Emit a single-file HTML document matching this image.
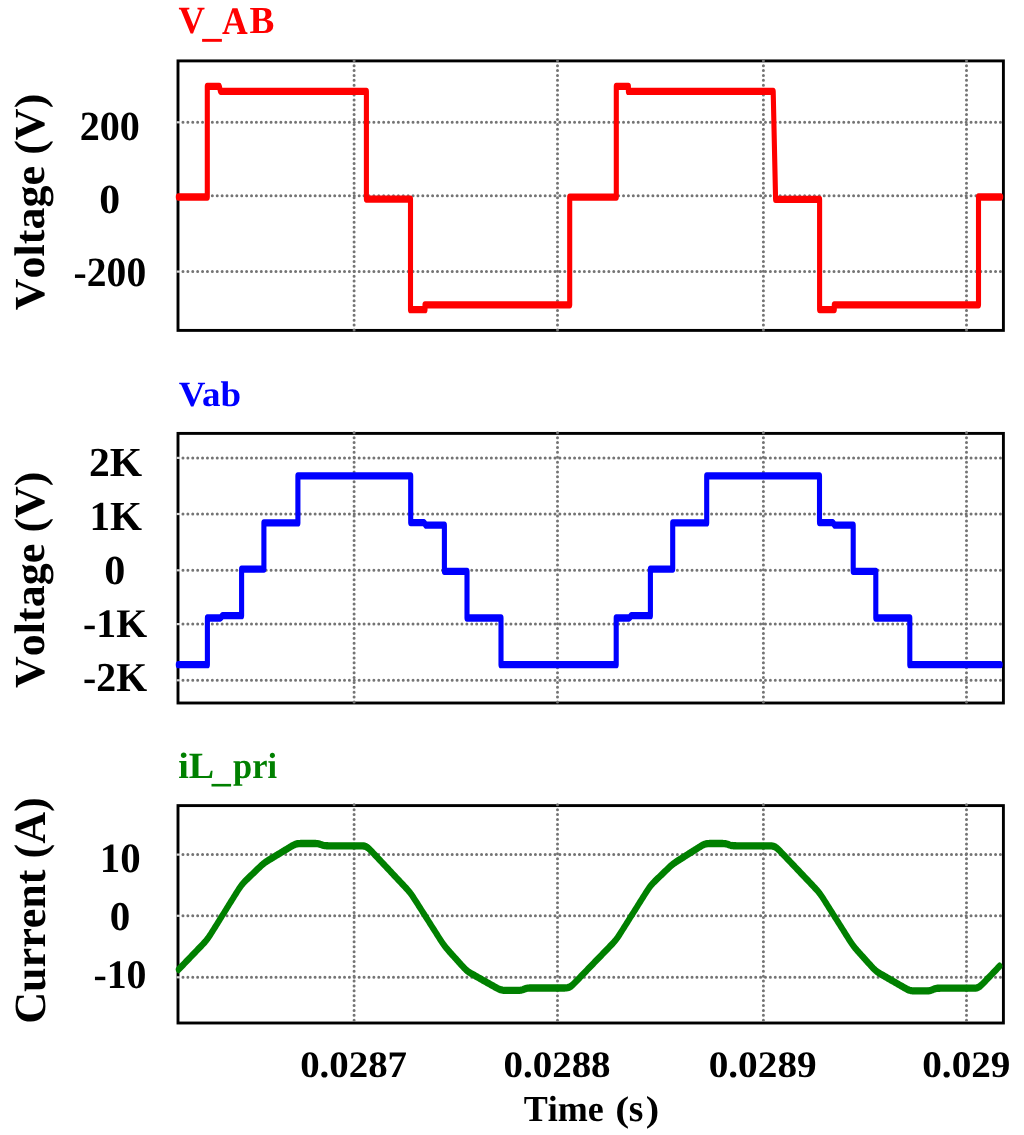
<!DOCTYPE html><html><head><meta charset="utf-8"><style>html,body{margin:0;padding:0;background:#fff;}svg{display:block;filter:blur(0.4px);}</style></head><body><svg width="1024" height="1135" viewBox="0 0 1024 1135">
<rect width="1024" height="1135" fill="#fff"/>
<rect x="178.0" y="60.9" width="825.40" height="269.50" fill="none" stroke="#000" stroke-width="2.9"/>
<rect x="178.0" y="433.4" width="825.40" height="269.60" fill="none" stroke="#000" stroke-width="2.9"/>
<rect x="178.0" y="805.6" width="825.40" height="217.40" fill="none" stroke="#000" stroke-width="2.9"/>
<g stroke="#747474" stroke-width="3.0" stroke-linecap="round" stroke-dasharray="0 4.895" fill="none">
<line x1="182.97" y1="122.3" x2="1002.40" y2="122.3"/>
<line x1="182.97" y1="195.7" x2="1002.40" y2="195.7"/>
<line x1="182.97" y1="271.6" x2="1002.40" y2="271.6"/>
<line x1="354.1" y1="60.77" x2="354.1" y2="331.40"/>
<line x1="557.5" y1="60.77" x2="557.5" y2="331.40"/>
<line x1="763.4" y1="60.77" x2="763.4" y2="331.40"/>
<line x1="966.5" y1="60.77" x2="966.5" y2="331.40"/>
<line x1="182.97" y1="457.9" x2="1002.40" y2="457.9"/>
<line x1="182.97" y1="514.0" x2="1002.40" y2="514.0"/>
<line x1="182.97" y1="570.3" x2="1002.40" y2="570.3"/>
<line x1="182.97" y1="624.1" x2="1002.40" y2="624.1"/>
<line x1="182.97" y1="680.3" x2="1002.40" y2="680.3"/>
<line x1="354.1" y1="432.78" x2="354.1" y2="704.00"/>
<line x1="557.5" y1="432.78" x2="557.5" y2="704.00"/>
<line x1="763.4" y1="432.78" x2="763.4" y2="704.00"/>
<line x1="966.5" y1="432.78" x2="966.5" y2="704.00"/>
<line x1="182.97" y1="854.6" x2="1002.40" y2="854.6"/>
<line x1="182.97" y1="915.8" x2="1002.40" y2="915.8"/>
<line x1="182.97" y1="977.3" x2="1002.40" y2="977.3"/>
<line x1="354.1" y1="804.81" x2="354.1" y2="1024.00"/>
<line x1="557.5" y1="804.81" x2="557.5" y2="1024.00"/>
<line x1="763.4" y1="804.81" x2="763.4" y2="1024.00"/>
<line x1="966.5" y1="804.81" x2="966.5" y2="1024.00"/>
</g>
<line x1="176.6" y1="122.3" x2="180.0" y2="122.3" stroke="#d4d4d4" stroke-width="2.2"/>
<line x1="176.6" y1="195.7" x2="180.0" y2="195.7" stroke="#d4d4d4" stroke-width="2.2"/>
<line x1="176.6" y1="271.6" x2="180.0" y2="271.6" stroke="#d4d4d4" stroke-width="2.2"/>
<line x1="176.6" y1="457.9" x2="180.0" y2="457.9" stroke="#d4d4d4" stroke-width="2.2"/>
<line x1="176.6" y1="514.0" x2="180.0" y2="514.0" stroke="#d4d4d4" stroke-width="2.2"/>
<line x1="176.6" y1="570.3" x2="180.0" y2="570.3" stroke="#d4d4d4" stroke-width="2.2"/>
<line x1="176.6" y1="624.1" x2="180.0" y2="624.1" stroke="#d4d4d4" stroke-width="2.2"/>
<line x1="176.6" y1="680.3" x2="180.0" y2="680.3" stroke="#d4d4d4" stroke-width="2.2"/>
<line x1="176.6" y1="854.6" x2="180.0" y2="854.6" stroke="#d4d4d4" stroke-width="2.2"/>
<line x1="176.6" y1="915.8" x2="180.0" y2="915.8" stroke="#d4d4d4" stroke-width="2.2"/>
<line x1="176.6" y1="977.3" x2="180.0" y2="977.3" stroke="#d4d4d4" stroke-width="2.2"/>
<g transform="scale(1,1.43)"><path d="M178.30,137.762 L207.30,137.762 L207.30,60.350 L219.30,60.350 L220.50,63.916 L366.40,63.916 L366.40,139.231 L410.50,139.231 L410.50,216.573 L425.00,216.573 L425.00,213.147 L569.70,213.147 L569.70,137.832 L616.30,137.832 L616.30,60.350 L628.40,60.350 L628.40,63.916 L773.20,63.916 L775.60,139.441 L819.60,139.441 L819.60,216.503 L834.30,216.503 L834.30,213.147 L978.50,213.147 L978.50,137.762 L1000.70,137.762" fill="none" stroke="#ff0000" stroke-width="5.1" stroke-linejoin="round" stroke-linecap="round"/></g>
<g transform="scale(1,1.43)"><path d="M178.30,464.825 L207.40,464.825 L207.40,432.168 L220.50,432.168 L222.50,430.559 L241.60,430.559 L241.60,397.972 L263.90,397.972 L263.90,365.664 L297.90,365.664 L297.90,332.797 L410.70,332.797 L410.70,365.455 L424.00,365.455 L426.00,367.273 L444.40,367.273 L444.40,399.510 L467.00,399.510 L467.00,432.168 L501.00,432.168 L501.00,464.825 L616.20,464.825 L616.20,432.168 L629.30,432.168 L631.30,430.559 L650.40,430.559 L650.40,397.972 L672.70,397.972 L672.70,365.664 L706.70,365.664 L706.70,332.797 L819.50,332.797 L819.50,365.455 L832.80,365.455 L834.80,367.273 L853.20,367.273 L853.20,399.510 L875.80,399.510 L875.80,432.168 L909.80,432.168 L909.80,464.825 L1000.20,464.825" fill="none" stroke="#0000ff" stroke-width="5.1" stroke-linejoin="round" stroke-linecap="round"/></g>
<g transform="scale(1,1.31)"><path d="M178.60,740.076 L179.60,739.281 L180.60,738.486 L181.60,737.691 L182.60,736.896 L183.60,736.101 L184.60,735.305 L185.60,734.510 L186.60,733.715 L187.60,732.920 L188.60,732.125 L189.60,731.330 L190.60,730.534 L191.60,729.739 L192.60,728.944 L193.60,728.149 L194.60,727.354 L195.60,726.559 L196.60,725.763 L197.60,724.968 L198.60,724.173 L199.60,723.378 L200.60,722.582 L201.60,721.784 L202.60,720.981 L203.60,720.167 L204.60,719.331 L205.60,718.458 L206.60,717.532 L207.60,716.541 L208.60,715.482 L209.60,714.363 L210.60,713.196 L211.60,711.999 L212.60,710.785 L213.60,709.562 L214.60,708.336 L215.60,707.109 L216.60,705.881 L217.60,704.654 L218.60,703.426 L219.60,702.199 L220.60,700.971 L221.60,699.743 L222.60,698.516 L223.60,697.288 L224.60,696.060 L225.60,694.833 L226.60,693.605 L227.60,692.378 L228.60,691.150 L229.60,689.922 L230.60,688.695 L231.60,687.467 L232.60,686.239 L233.60,685.012 L234.60,683.785 L235.60,682.560 L236.60,681.339 L237.60,680.128 L238.60,678.939 L239.60,677.789 L240.60,676.696 L241.60,675.675 L242.60,674.732 L243.60,673.862 L244.60,673.049 L245.60,672.274 L246.60,671.521 L247.60,670.778 L248.60,670.040 L249.60,669.303 L250.60,668.567 L251.60,667.831 L252.60,667.095 L253.60,666.359 L254.60,665.623 L255.60,664.887 L256.60,664.152 L257.60,663.417 L258.60,662.683 L259.60,661.955 L260.60,661.237 L261.60,660.538 L262.60,659.867 L263.60,659.233 L264.60,658.642 L265.60,658.092 L266.60,657.576 L267.60,657.084 L268.60,656.607 L269.60,656.138 L270.60,655.672 L271.60,655.208 L272.60,654.744 L273.60,654.281 L274.60,653.817 L275.60,653.353 L276.60,652.889 L277.60,652.426 L278.60,651.962 L279.60,651.498 L280.60,651.034 L281.60,650.571 L282.60,650.107 L283.60,649.643 L284.60,649.180 L285.60,648.716 L286.60,648.252 L287.60,647.789 L288.60,647.325 L289.60,646.863 L290.60,646.404 L291.60,645.952 L292.60,645.517 L293.60,645.112 L294.60,644.753 L295.60,644.457 L296.60,644.232 L297.60,644.079 L298.60,643.984 L299.60,643.933 L300.60,643.909 L301.60,643.898 L302.60,643.895 L303.60,643.894 L304.60,643.893 L305.60,643.893 L306.60,643.893 L307.60,643.893 L308.60,643.893 L309.60,643.893 L310.60,643.893 L311.60,643.893 L312.60,643.894 L313.60,643.896 L314.60,643.901 L315.60,643.917 L316.60,643.955 L317.60,644.031 L318.60,644.163 L319.60,644.361 L320.60,644.613 L321.60,644.888 L322.60,645.146 L323.60,645.352 L324.60,645.495 L325.60,645.578 L326.60,645.621 L327.60,645.639 L328.60,645.646 L329.60,645.648 L330.60,645.649 L331.60,645.649 L332.60,645.649 L333.60,645.649 L334.60,645.649 L335.60,645.649 L336.60,645.649 L337.60,645.649 L338.60,645.649 L339.60,645.649 L340.60,645.649 L341.60,645.649 L342.60,645.649 L343.60,645.649 L344.60,645.649 L345.60,645.649 L346.60,645.649 L347.60,645.649 L348.60,645.649 L349.60,645.649 L350.60,645.649 L351.60,645.649 L352.60,645.649 L353.60,645.649 L354.60,645.649 L355.60,645.649 L356.60,645.649 L357.60,645.649 L358.60,645.649 L359.60,645.651 L360.60,645.656 L361.60,645.670 L362.60,645.706 L363.60,645.783 L364.60,645.930 L365.60,646.176 L366.60,646.544 L367.60,647.039 L368.60,647.650 L369.60,648.348 L370.60,649.104 L371.60,649.893 L372.60,650.697 L373.60,651.508 L374.60,652.320 L375.60,653.134 L376.60,653.947 L377.60,654.761 L378.60,655.574 L379.60,656.388 L380.60,657.201 L381.60,658.015 L382.60,658.828 L383.60,659.642 L384.60,660.456 L385.60,661.269 L386.60,662.083 L387.60,662.896 L388.60,663.710 L389.60,664.523 L390.60,665.337 L391.60,666.150 L392.60,666.964 L393.60,667.778 L394.60,668.591 L395.60,669.405 L396.60,670.218 L397.60,671.032 L398.60,671.845 L399.60,672.659 L400.60,673.473 L401.60,674.286 L402.60,675.100 L403.60,675.914 L404.60,676.730 L405.60,677.549 L406.60,678.378 L407.60,679.225 L408.60,680.104 L409.60,681.029 L410.60,682.011 L411.60,683.054 L412.60,684.154 L413.60,685.296 L414.60,686.467 L415.60,687.655 L416.60,688.850 L417.60,690.049 L418.60,691.249 L419.60,692.449 L420.60,693.649 L421.60,694.849 L422.60,696.049 L423.60,697.249 L424.60,698.450 L425.60,699.650 L426.60,700.850 L427.60,702.050 L428.60,703.250 L429.60,704.451 L430.60,705.651 L431.60,706.851 L432.60,708.051 L433.60,709.252 L434.60,710.452 L435.60,711.652 L436.60,712.852 L437.60,714.051 L438.60,715.249 L439.60,716.443 L440.60,717.628 L441.60,718.795 L442.60,719.932 L443.60,721.025 L444.60,722.066 L445.60,723.052 L446.60,723.987 L447.60,724.885 L448.60,725.758 L449.60,726.616 L450.60,727.468 L451.60,728.317 L452.60,729.166 L453.60,730.013 L454.60,730.861 L455.60,731.709 L456.60,732.557 L457.60,733.405 L458.60,734.252 L459.60,735.100 L460.60,735.946 L461.60,736.790 L462.60,737.627 L463.60,738.449 L464.60,739.244 L465.60,739.998 L466.60,740.695 L467.60,741.328 L468.60,741.897 L469.60,742.413 L470.60,742.890 L471.60,743.343 L472.60,743.783 L473.60,744.218 L474.60,744.650 L475.60,745.081 L476.60,745.512 L477.60,745.943 L478.60,746.374 L479.60,746.806 L480.60,747.237 L481.60,747.668 L482.60,748.099 L483.60,748.530 L484.60,748.961 L485.60,749.392 L486.60,749.823 L487.60,750.254 L488.60,750.685 L489.60,751.116 L490.60,751.547 L491.60,751.978 L492.60,752.409 L493.60,752.840 L494.60,753.270 L495.60,753.697 L496.60,754.116 L497.60,754.521 L498.60,754.898 L499.60,755.231 L500.60,755.506 L501.60,755.715 L502.60,755.858 L503.60,755.946 L504.60,755.993 L505.60,756.016 L506.60,756.026 L507.60,756.029 L508.60,756.030 L509.60,756.030 L510.60,756.031 L511.60,756.031 L512.60,756.031 L513.60,756.031 L514.60,756.030 L515.60,756.030 L516.60,756.028 L517.60,756.021 L518.60,756.003 L519.60,755.960 L520.60,755.876 L521.60,755.733 L522.60,755.522 L523.60,755.257 L524.60,754.972 L525.60,754.707 L526.60,754.496 L527.60,754.353 L528.60,754.269 L529.60,754.226 L530.60,754.208 L531.60,754.201 L532.60,754.199 L533.60,754.199 L534.60,754.199 L535.60,754.198 L536.60,754.198 L537.60,754.198 L538.60,754.198 L539.60,754.198 L540.60,754.198 L541.60,754.198 L542.60,754.198 L543.60,754.198 L544.60,754.198 L545.60,754.198 L546.60,754.198 L547.60,754.198 L548.60,754.198 L549.60,754.198 L550.60,754.198 L551.60,754.198 L552.60,754.198 L553.60,754.198 L554.60,754.198 L555.60,754.198 L556.60,754.198 L557.60,754.198 L558.60,754.198 L559.60,754.198 L560.60,754.198 L561.60,754.198 L562.60,754.197 L563.60,754.194 L564.60,754.184 L565.60,754.158 L566.60,754.099 L567.60,753.981 L568.60,753.775 L569.60,753.455 L570.60,753.010 L571.60,752.447 L572.60,751.791 L573.60,751.070 L574.60,750.311 L575.60,749.534 L576.60,748.749 L577.60,747.960 L578.60,747.171 L579.60,746.382 L580.60,745.592 L581.60,744.803 L582.60,744.013 L583.60,743.223 L584.60,742.434 L585.60,741.644 L586.60,740.855 L587.60,740.065 L588.60,739.276 L589.60,738.486 L590.60,737.696 L591.60,736.907 L592.60,736.117 L593.60,735.328 L594.60,734.538 L595.60,733.749 L596.60,732.959 L597.60,732.170 L598.60,731.380 L599.60,730.590 L600.60,729.801 L601.60,729.011 L602.60,728.222 L603.60,727.432 L604.60,726.643 L605.60,725.853 L606.60,725.063 L607.60,724.274 L608.60,723.484 L609.60,722.693 L610.60,721.901 L611.60,721.103 L612.60,720.293 L613.60,719.459 L614.60,718.588 L615.60,717.663 L616.60,716.674 L617.60,715.619 L618.60,714.505 L619.60,713.346 L620.60,712.159 L621.60,710.956 L622.60,709.745 L623.60,708.530 L624.60,707.315 L625.60,706.100 L626.60,704.884 L627.60,703.669 L628.60,702.453 L629.60,701.238 L630.60,700.022 L631.60,698.807 L632.60,697.591 L633.60,696.376 L634.60,695.160 L635.60,693.944 L636.60,692.729 L637.60,691.513 L638.60,690.298 L639.60,689.082 L640.60,687.867 L641.60,686.651 L642.60,685.436 L643.60,684.221 L644.60,683.009 L645.60,681.802 L646.60,680.607 L647.60,679.437 L648.60,678.308 L649.60,677.237 L650.60,676.239 L651.60,675.315 L652.60,674.459 L653.60,673.656 L654.60,672.886 L655.60,672.135 L656.60,671.394 L657.60,670.656 L658.60,669.919 L659.60,669.183 L660.60,668.447 L661.60,667.711 L662.60,666.975 L663.60,666.239 L664.60,665.503 L665.60,664.768 L666.60,664.033 L667.60,663.300 L668.60,662.572 L669.60,661.855 L670.60,661.157 L671.60,660.486 L672.60,659.852 L673.60,659.258 L674.60,658.701 L675.60,658.175 L676.60,657.668 L677.60,657.174 L678.60,656.685 L679.60,656.200 L680.60,655.715 L681.60,655.230 L682.60,654.746 L683.60,654.261 L684.60,653.777 L685.60,653.292 L686.60,652.808 L687.60,652.323 L688.60,651.839 L689.60,651.354 L690.60,650.870 L691.60,650.385 L692.60,649.901 L693.60,649.416 L694.60,648.932 L695.60,648.447 L696.60,647.963 L697.60,647.479 L698.60,646.996 L699.60,646.516 L700.60,646.044 L701.60,645.590 L702.60,645.166 L703.60,644.792 L704.60,644.482 L705.60,644.248 L706.60,644.087 L707.60,643.988 L708.60,643.935 L709.60,643.909 L710.60,643.899 L711.60,643.895 L712.60,643.894 L713.60,643.893 L714.60,643.893 L715.60,643.893 L716.60,643.893 L717.60,643.893 L718.60,643.893 L719.60,643.893 L720.60,643.894 L721.60,643.898 L722.60,643.908 L723.60,643.933 L724.60,643.988 L725.60,644.091 L726.60,644.256 L727.60,644.483 L728.60,644.751 L729.60,645.022 L730.60,645.257 L731.60,645.432 L732.60,645.543 L733.60,645.604 L734.60,645.632 L735.60,645.643 L736.60,645.647 L737.60,645.648 L738.60,645.649 L739.60,645.649 L740.60,645.649 L741.60,645.649 L742.60,645.649 L743.60,645.649 L744.60,645.649 L745.60,645.649 L746.60,645.649 L747.60,645.649 L748.60,645.649 L749.60,645.649 L750.60,645.649 L751.60,645.649 L752.60,645.649 L753.60,645.649 L754.60,645.649 L755.60,645.649 L756.60,645.649 L757.60,645.649 L758.60,645.649 L759.60,645.649 L760.60,645.649 L761.60,645.649 L762.60,645.649 L763.60,645.649 L764.60,645.649 L765.60,645.649 L766.60,645.649 L767.60,645.650 L768.60,645.652 L769.60,645.660 L770.60,645.681 L771.60,645.731 L772.60,645.832 L773.60,646.015 L774.60,646.305 L775.60,646.720 L776.60,647.258 L777.60,647.899 L778.60,648.614 L779.60,649.376 L780.60,650.163 L781.60,650.961 L782.60,651.763 L783.60,652.567 L784.60,653.371 L785.60,654.176 L786.60,654.980 L787.60,655.785 L788.60,656.589 L789.60,657.394 L790.60,658.198 L791.60,659.002 L792.60,659.807 L793.60,660.611 L794.60,661.416 L795.60,662.220 L796.60,663.025 L797.60,663.829 L798.60,664.634 L799.60,665.438 L800.60,666.242 L801.60,667.047 L802.60,667.851 L803.60,668.656 L804.60,669.460 L805.60,670.265 L806.60,671.069 L807.60,671.873 L808.60,672.678 L809.60,673.482 L810.60,674.287 L811.60,675.091 L812.60,675.896 L813.60,676.703 L814.60,677.512 L815.60,678.331 L816.60,679.168 L817.60,680.036 L818.60,680.951 L819.60,681.927 L820.60,682.967 L821.60,684.067 L822.60,685.214 L823.60,686.393 L824.60,687.589 L825.60,688.795 L826.60,690.004 L827.60,691.214 L828.60,692.425 L829.60,693.636 L830.60,694.847 L831.60,696.058 L832.60,697.269 L833.60,698.480 L834.60,699.691 L835.60,700.901 L836.60,702.112 L837.60,703.323 L838.60,704.534 L839.60,705.745 L840.60,706.956 L841.60,708.167 L842.60,709.378 L843.60,710.589 L844.60,711.800 L845.60,713.010 L846.60,714.220 L847.60,715.428 L848.60,716.631 L849.60,717.823 L850.60,718.994 L851.60,720.131 L852.60,721.221 L853.60,722.257 L854.60,723.236 L855.60,724.166 L856.60,725.059 L857.60,725.929 L858.60,726.787 L859.60,727.638 L860.60,728.487 L861.60,729.335 L862.60,730.183 L863.60,731.031 L864.60,731.879 L865.60,732.726 L866.60,733.574 L867.60,734.422 L868.60,735.269 L869.60,736.116 L870.60,736.959 L871.60,737.794 L872.60,738.613 L873.60,739.404 L874.60,740.150 L875.60,740.840 L876.60,741.465 L877.60,742.030 L878.60,742.545 L879.60,743.026 L880.60,743.486 L881.60,743.936 L882.60,744.381 L883.60,744.824 L884.60,745.266 L885.60,745.709 L886.60,746.151 L887.60,746.593 L888.60,747.035 L889.60,747.478 L890.60,747.920 L891.60,748.362 L892.60,748.805 L893.60,749.247 L894.60,749.689 L895.60,750.132 L896.60,750.574 L897.60,751.016 L898.60,751.458 L899.60,751.901 L900.60,752.343 L901.60,752.785 L902.60,753.227 L903.60,753.668 L904.60,754.105 L905.60,754.534 L906.60,754.945 L907.60,755.324 L908.60,755.656 L909.60,755.926 L910.60,756.126 L911.60,756.259 L912.60,756.339 L913.60,756.381 L914.60,756.401 L915.60,756.408 L916.60,756.411 L917.60,756.412 L918.60,756.412 L919.60,756.412 L920.60,756.412 L921.60,756.412 L922.60,756.412 L923.60,756.412 L924.60,756.411 L925.60,756.408 L926.60,756.398 L927.60,756.372 L928.60,756.314 L929.60,756.203 L930.60,756.020 L931.60,755.763 L932.60,755.452 L933.60,755.130 L934.60,754.845 L935.60,754.629 L936.60,754.489 L937.60,754.411 L938.60,754.373 L939.60,754.358 L940.60,754.353 L941.60,754.352 L942.60,754.351 L943.60,754.351 L944.60,754.351 L945.60,754.351 L946.60,754.351 L947.60,754.351 L948.60,754.351 L949.60,754.351 L950.60,754.351 L951.60,754.351 L952.60,754.351 L953.60,754.351 L954.60,754.351 L955.60,754.351 L956.60,754.351 L957.60,754.351 L958.60,754.351 L959.60,754.351 L960.60,754.351 L961.60,754.351 L962.60,754.351 L963.60,754.351 L964.60,754.351 L965.60,754.351 L966.60,754.351 L967.60,754.351 L968.60,754.351 L969.60,754.351 L970.60,754.351 L971.60,754.349 L972.60,754.345 L973.60,754.333 L974.60,754.301 L975.60,754.232 L976.60,754.097 L977.60,753.868 L978.60,753.519 L979.60,753.045 L980.60,752.455 L981.60,751.776 L982.60,751.037 L983.60,750.265 L984.60,749.477 L985.60,748.681 L986.60,747.884 L987.60,747.086 L988.60,746.288 L989.60,745.489 L990.60,744.691 L991.60,743.892 L992.60,743.094 L993.60,742.296 L994.60,741.497 L995.60,740.699 L996.60,739.901 L997.60,739.102 L998.60,738.304 L999.60,737.505" fill="none" stroke="#008000" stroke-width="5.6" stroke-linejoin="round" stroke-linecap="round"/></g>
<rect x="202.1" y="38.9" width="19.8" height="2.9" fill="#ff0000"/>
<rect x="211.5" y="783.9" width="19.6" height="2.6" fill="#008000"/>
<g font-family="'Liberation Serif', serif" font-weight="bold" font-size="100" text-rendering="geometricPrecision">
<text transform="translate(178.60,32.58) scale(0.3659,0.3846)" fill="#ff0000">V</text>
<text transform="translate(221.95,33.70) scale(0.3563,0.3894)" fill="#ff0000">A</text>
<text transform="translate(249.55,32.59) scale(0.3731,0.3816)" fill="#ff0000">B</text>
<text transform="translate(178.70,405.67) scale(0.3701,0.3566)" fill="#0000ff">Vab</text>
<text transform="translate(178.28,777.55) scale(0.3809,0.3689)" fill="#008000">iL</text>
<text transform="translate(233.09,777.56) scale(0.3439,0.3655)" fill="#008000">pri</text>
<text transform="translate(79.63,139.59) scale(0.4016,0.4139)" fill="#000">200</text>
<text transform="translate(99.17,212.74) scale(0.4171,0.4139)" fill="#000">0</text>
<text transform="translate(73.62,285.50) scale(0.3958,0.4169)" fill="#000">-200</text>
<text transform="translate(88.88,475.60) scale(0.4159,0.4127)" fill="#000">2K</text>
<text transform="translate(89.51,529.65) scale(0.4110,0.4137)" fill="#000">1K</text>
<text transform="translate(104.15,583.69) scale(0.4219,0.4124)" fill="#000">0</text>
<text transform="translate(83.11,636.50) scale(0.3977,0.4061)" fill="#000">-1K</text>
<text transform="translate(83.11,690.55) scale(0.3977,0.4097)" fill="#000">-2K</text>
<text transform="translate(99.73,871.63) scale(0.4087,0.4168)" fill="#000">10</text>
<text transform="translate(109.80,929.69) scale(0.4100,0.4079)" fill="#000">0</text>
<text transform="translate(93.41,987.61) scale(0.3981,0.4065)" fill="#000">-10</text>
<text transform="translate(300.18,1076.68) scale(0.3886,0.3744)" fill="#000">0.0287</text>
<text transform="translate(503.48,1076.73) scale(0.3895,0.3744)" fill="#000">0.0288</text>
<text transform="translate(708.67,1076.73) scale(0.3927,0.3744)" fill="#000">0.0289</text>
<text transform="translate(922.27,1076.73) scale(0.3915,0.3746)" fill="#000">0.029</text>
<text transform="translate(523.71,1120.74) scale(0.3606,0.3653)" fill="#000"><tspan style="font-kerning:none">Time</tspan></text>
<text transform="translate(615.37,1120.54) scale(0.4204,0.3588)" fill="#000">(</text>
<text transform="translate(628.66,1120.67) scale(0.3749,0.3834)" fill="#000">s</text>
<text transform="translate(645.82,1120.56) scale(0.4037,0.3596)" fill="#000">)</text>
<text transform="translate(43.52,310.28) rotate(-90) scale(0.4407,0.4285)" fill="#000"><tspan style="font-kerning:none">Voltage (V)</tspan></text>
<text transform="translate(43.52,687.98) rotate(-90) scale(0.4405,0.4285)" fill="#000"><tspan style="font-kerning:none">Voltage (V)</tspan></text>
<text transform="translate(44.72,1023.79) rotate(-90) scale(0.4410,0.4454)" fill="#000"><tspan style="font-kerning:none">Current (A)</tspan></text>
</g>
</svg></body></html>
